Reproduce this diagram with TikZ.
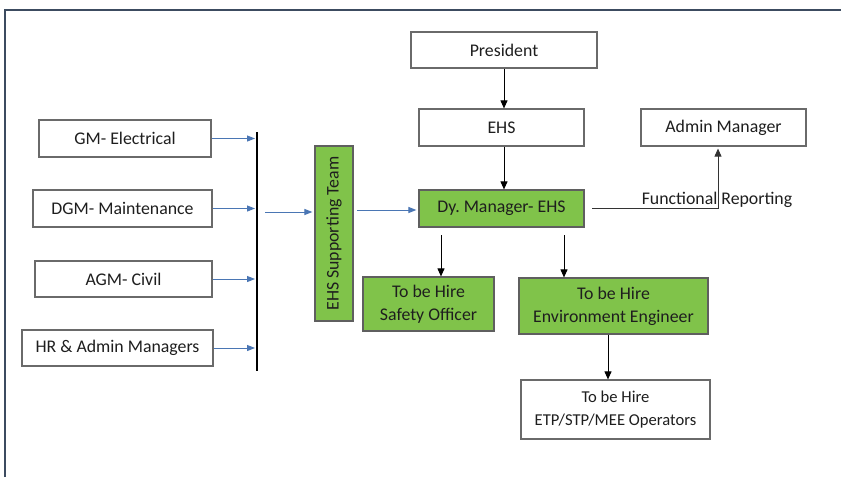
\documentclass[tikz,border=0pt]{standalone}
\usepackage{fontspec}
\setmainfont{Carlito}
\usetikzlibrary{arrows.meta}
\definecolor{framec}{HTML}{3C4B60}
\definecolor{boxline}{HTML}{6A6A6A}
\definecolor{greenfill}{HTML}{80C34A}
\definecolor{textc}{HTML}{1E1E1E}
\definecolor{bluearr}{HTML}{4A76B4}
\tikzset{
  lbl/.style={text=textc, font=\fontsize{17.8}{23}\selectfont},
  box/.style={draw=boxline, line width=1.2pt, fill=white, inner sep=0pt,
    align=center, lbl},
  gbox/.style={box, fill=greenfill, draw=boxline!90!black},
  blk/.style={draw=black, line width=1pt, -{Triangle[length=8pt,width=7pt]}},
  blu/.style={draw=bluearr, line width=1pt, -{Triangle[length=8pt,width=6pt]}},
}
\begin{document}
\frenchspacing
\begin{tikzpicture}[x=1pt,y=-1pt]
\useasboundingbox (0,0) rectangle (841,477);
\fill[white] (0,0) rectangle (841,477);
% page frame
\draw[framec, line width=2pt] (5,477) -- (5,10) -- (841,10);

% EHS chain
\node[box, minimum width=186, minimum height=36] (pres) at (504,50) {President};
\node[box, minimum width=165, minimum height=37] (ehs) at (501.5,127.5) {EHS};
\node[box, minimum width=165, minimum height=37] (adm) at (723.5,127.5) {Admin Manager};
\node[gbox, minimum width=165, minimum height=37] (dym) at (501.5,208.5) {Dy. Manager- EHS};
\node[gbox, minimum width=131, minimum height=54] (saf) at (428.5,304) {To be Hire\\Safety Officer};
\node[gbox, minimum width=189, minimum height=56] (env) at (613.5,306) {To be Hire\\Environment Engineer};
\node[box, minimum width=189, minimum height=59, font=\fontsize{16.6}{23}\selectfont] (etp) at (615.5,409.5) {To be Hire\\ETP/STP/MEE Operators};

% supporting team
\node[gbox, minimum width=38, minimum height=175] (sup) at (334,233.5) {};
\node[rotate=90, lbl, inner sep=0pt] (suplbl) at (sup) {EHS Supporting Team};

% departments
\node[box, minimum width=172, minimum height=37] (gm) at (125,138.5) {GM- Electrical};
\node[box, minimum width=179, minimum height=37] (dgm) at (122.5,208.5) {DGM- Maintenance};
\node[box, minimum width=177, minimum height=36] (agm) at (123.5,279) {AGM- Civil};
\node[box, minimum width=191, minimum height=36] (hr) at (117.5,348) {HR \& Admin Managers};

% collecting bus
\coordinate (busT) at (257,132);
\coordinate (busB) at (257,371);
\draw[black, line width=2.4pt] (busT) -- (busB);

\draw[blu, shorten >=2pt] (gm.east) -- (gm.east -| busT);
\draw[blu, shorten >=2pt] (dgm.east) -- (dgm.east -| busT);
\draw[blu, shorten >=2pt] (agm.east) -- (agm.east -| busT);
\draw[blu, shorten >=2pt] (hr.east) -- (hr.east -| busT);

\coordinate (busout) at (265,212);
\draw[blu, shorten >=2pt] (busout) -- (busout -| sup.west);
\coordinate (supout) at (357,210);
\draw[blu, shorten >=2pt] (supout) -- (supout -| dym.west);

% reporting lines
\draw[blk] (pres.south) -- (pres.south |- ehs.north);
\draw[blk] (ehs.south -| pres.south) -- (dym.north -| pres.south);
\coordinate (d1) at (441,235);
\coordinate (d2) at (564,235);
\draw[blk] (d1) -- (d1 |- saf.north);
\draw[blk] (d2) -- (d2 |- env.north);
\coordinate (e1) at (608,0);
\draw[blk] (env.south -| e1) -- (etp.north -| e1);

% functional reporting
\coordinate (fr0) at (592,208);
\coordinate (fr1) at (718,208);
\draw[blk, line width=0.8pt, draw=black!80] (fr0) -- (fr1) -- ([yshift=-2pt]adm.south -| fr1);
\node[lbl, inner sep=0pt] (frl) at (717,200) {Functional Reporting};
\end{tikzpicture}
\end{document}
